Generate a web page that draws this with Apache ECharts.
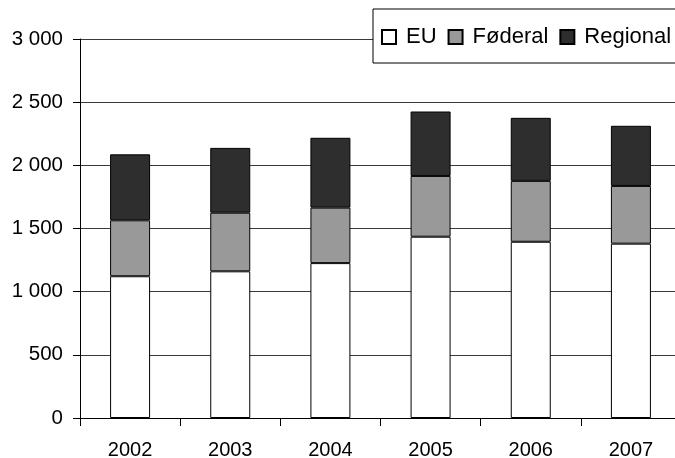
<!DOCTYPE html>
<html>
<head>
<meta charset="utf-8">
<script src="https://cdn.jsdelivr.net/npm/echarts@6/dist/echarts.min.js"></script>
<style>
  html, body { margin: 0; padding: 0; background: #fff; }
  #chart { width: 675px; height: 458px; }
</style>
</head>
<body>
<div id="chart"></div>
<script>
// år
var years = ['2002', '2003', '2004', '2005', '2006', '2007'];
// verdier lest av figuren
var euValues = [1122, 1161, 1226, 1435, 1395, 1380];
var foderalValues = [443, 464, 439, 481, 482, 457];
var regionalValues = [522, 513, 553, 510, 499, 476];
var yTicks = [0, 500, 1000, 1500, 2000, 2500, 3000];

var fontName = 'Liberation Sans, Arial, sans-serif';

// tusenskille med mellomrom
function fmt(v) {
    return String(v).replace(/\B(?=(\d{3})+(?!\d))/g, ' ');
}

function barSeries(name, data, color) {
    return {
        name: name,
        type: 'bar',
        stack: 'total',
        barWidth: 40,
        data: data,
        itemStyle: { color: color, borderColor: '#000', borderWidth: 1 },
        emphasis: { disabled: true }
    };
}

var myChart = echarts.init(document.getElementById('chart'));

var option = {
    animation: false,
    backgroundColor: '#fff',
    textStyle: { fontFamily: fontName, color: '#000' },
    grid: { left: 80, top: 39, width: 601, height: 379, outerBoundsMode: 'none' },
    legend: {
        left: 373,
        top: 9,
        width: 400,
        z: 10,
        padding: [15, 30, 13, 8],
        backgroundColor: '#fff',
        borderColor: '#000',
        borderWidth: 1,
        itemGap: 11,
        itemWidth: 14,
        itemHeight: 14,
        icon: 'rect',
        textStyle: { fontFamily: fontName, fontSize: 22, lineHeight: 26, color: '#000', padding: [0, 0, 0, 5] },
        data: ['EU', 'Føderal', 'Regional']
    },
    xAxis: {
        type: 'category',
        data: years,
        axisLine: { show: true, lineStyle: { color: '#000', width: 1 } },
        axisTick: { show: true, length: 8, lineStyle: { color: '#000', width: 1 } },
        axisLabel: { fontSize: 20, color: '#000', margin: 22, fontFamily: fontName }
    },
    yAxis: {
        type: 'value',
        min: yTicks[0],
        max: yTicks[yTicks.length - 1],
        interval: 500,
        axisLine: { show: true, lineStyle: { color: '#000', width: 1 } },
        axisTick: { show: true, inside: false, length: 7, lineStyle: { color: '#000', width: 1 } },
        axisLabel: { fontSize: 20.5, color: '#000', margin: 17, fontFamily: fontName, formatter: fmt },
        splitLine: { lineStyle: { color: '#3a3a3a', width: 1 } }
    },
    series: [
        barSeries('EU', euValues, '#ffffff'),
        barSeries('Føderal', foderalValues, '#999999'),
        barSeries('Regional', regionalValues, '#2e2e2e')
    ]
};

myChart.setOption(option);
</script>
</body>
</html>
